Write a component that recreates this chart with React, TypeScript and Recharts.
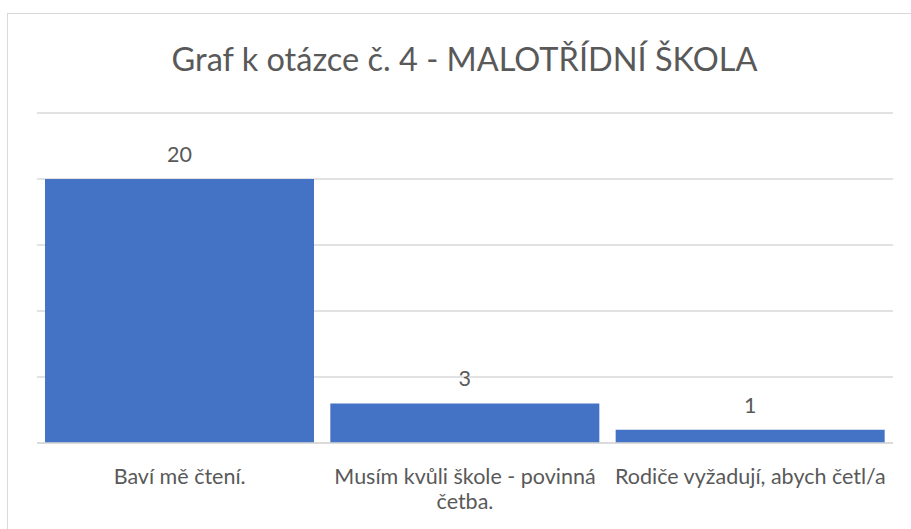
import { BarChart, Bar, XAxis, YAxis, CartesianGrid, LabelList } from 'recharts'

const categories = ['Baví mě čtení.', 'Musím kvůli škole - povinná četba.', 'Rodiče vyžadují, abych četl/a']
const counts = [20, 3, 1]
const yTicks = [0, 5, 10, 15, 20, 25]

const data = categories.map((name, i) => ({ name, count: counts[i] }))

const FONT = 'Lato, "Open Sans", sans-serif'
const GREY = '#595959'
const TICK_SIZE = 21.5

// greedy word wrap measured with a canvas
function wrap(text: string, maxWidth: number) {
  const ctx = document.createElement('canvas').getContext('2d')!
  ctx.font = `${TICK_SIZE}px ${FONT}`
  const lines: string[] = []
  let cur = ''
  for (const w of text.split(' ')) {
    const next = cur ? cur + ' ' + w : w
    if (cur && ctx.measureText(next).width > maxWidth) {
      lines.push(cur)
      cur = w
    } else cur = next
  }
  if (cur) lines.push(cur)
  return lines
}

function CategoryTick(props: any) {
  const { x, y, payload } = props
  const lines = wrap(payload.value, 284)
  return (
    <text x={x} y={y + 33} textAnchor="middle" fill={GREY}
      style={{ fontFamily: FONT, fontSize: TICK_SIZE }}>
      {lines.map((l, i) => (
        <tspan key={i} x={x} dy={i === 0 ? 0 : 25}>{l}</tspan>
      ))}
    </text>
  )
}

export default function App() {
  return (
    <div style={{ position: 'fixed', left: 0, top: 0, width: 911, height: 529, overflow: 'hidden', background: '#fff' }}>
      <div style={{ position: 'absolute', left: 7, top: 13, width: 920, height: 540, border: '1px solid #d9d9d9' }} />
      <div style={{
        position: 'absolute', left: 7, top: 37, width: 915, textAlign: 'center',
        fontFamily: FONT, fontSize: 32.5, color: GREY, lineHeight: '44px',
      }}>
        Graf k otázce č. 4 - MALOTŘÍDNÍ ŠKOLA
      </div>
      <div style={{ position: 'absolute', left: 0, top: 0 }}>
        <BarChart
          width={911}
          height={529}
          data={data}
          margin={{ top: 113, right: 18, left: 37, bottom: 56 }}
          barCategoryGap={8}
        >
          <CartesianGrid vertical={false} stroke="#d9d9d9" strokeWidth={1.5} />
          <YAxis hide width={0} domain={[0, 25]} ticks={yTicks} />
          <XAxis
            dataKey="name"
            height={30}
            axisLine={{ stroke: '#d9d9d9', strokeWidth: 1.5 }}
            tickLine={false}
            tick={<CategoryTick />}
            interval={0}
          />
          <Bar dataKey="count" fill="#4472c4" isAnimationActive={false}>
            <LabelList
              dataKey="count"
              position="top"
              offset={17}
              style={{ fontFamily: FONT, fontSize: 21.5 }}
              fill={GREY}
            />
          </Bar>
        </BarChart>
      </div>
    </div>
  )
}
